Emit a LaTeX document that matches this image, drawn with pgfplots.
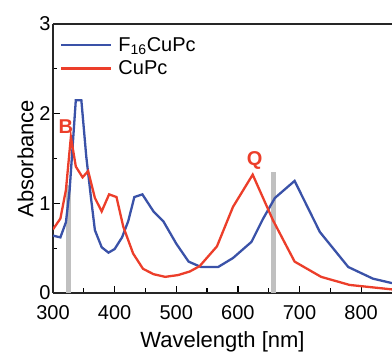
\documentclass[border=0pt]{standalone}
\usepackage{pgfplots}
\pgfplotsset{compat=1.18}
\usepackage{fontspec}
\setmainfont{Liberation Sans}
\definecolor{cblue}{RGB}{58,82,168}
\definecolor{cred}{RGB}{236,62,42}
\definecolor{cgray}{RGB}{192,192,192}
\begin{document}
\begin{tikzpicture}
\begin{axis}[
  name=a,
  scale only axis,
  width=339pt, height=269pt,
  xmin=300, xmax=850, ymin=0, ymax=3,
  axis x line=box, axis y line=left,
  axis line style={-, line width=1.4pt, black!85},
  every outer x axis line/.append style={-},
  every outer y axis line/.append style={-},
  every inner x axis line/.append style={-},
  xtick={300,400,...,800}, ytick={0,1,2,3},
  minor x tick num=1, minor y tick num=1,
  xtick pos=bottom,
  tick align=inside,
  major tick length=7pt, minor tick length=4.5pt,
  every tick/.style={black, line width=1.2pt},
  /pgf/number format/assume math mode=true,
  ticklabel style={font=\fontsize{20}{20}\selectfont},
  xticklabel style={yshift=-9pt},
  yticklabel style={xshift=1pt},
  xlabel={Wavelength [nm]}, ylabel={Absorbance},
  label style={font=\fontsize{22}{22}\selectfont},
  xlabel style={yshift=-5pt},
  ylabel style={yshift=-1pt},
  legend style={at={(axis description cs:0,1)}, anchor=north west, draw=none, fill=none,
    font=\fontsize{20}{20}\selectfont, xshift=4pt, yshift=-9pt,
    row sep=4pt},
  legend cell align=left,
  legend image code/.code={\draw[#1] (0pt,0pt) -- (50pt,0pt); \path (54pt,0pt);},
  clip=true,
]
\addplot[ycomb, line width=5pt, cgray, forget plot] coordinates {(325,1.2) (657,1.35)};
\addplot[cblue, line width=2.3pt] coordinates {
(300,0.64) (312,0.62) (321,0.79) (327,1.15) (337,2.15) (346,2.15) (354,1.52) (362,1.04)
(368,0.70) (379,0.51) (390,0.45) (400,0.49) (412,0.62) (422,0.80) (432,1.07) (445,1.10)
(463,0.91) (479,0.80) (500,0.55) (520,0.35) (540,0.29) (568,0.29) (592,0.39) (622,0.57)
(641,0.83) (660,1.06) (692,1.25) (733,0.68) (779,0.29) (819,0.16) (850,0.11)};
\addlegendentry{F\textsubscript{16}CuPc}
\addplot[cred, line width=2.3pt] coordinates {
(300,0.71) (312,0.83) (321,1.15) (329,1.74) (337,1.41) (348,1.29) (357,1.36) (368,1.06)
(379,0.91) (391,1.10) (403,1.07) (414,0.74) (430,0.44) (446,0.27) (463,0.21) (482,0.18)
(503,0.20) (522,0.24) (538,0.30) (566,0.52) (592,0.96) (624,1.32) (657,0.81) (692,0.35)
(735,0.18) (781,0.09) (850,0.04)};
\addlegendentry{CuPc}
\node[text=cred, font=\fontsize{20}{20}\selectfont\bfseries] at (axis cs:321,1.86) {B};
\node[text=cred, font=\fontsize{20}{20}\selectfont\bfseries] at (axis cs:627,1.48) {Q};
\end{axis}
\pgfresetboundingbox
\path ([shift={(-53pt,-59pt)}]a.south west) rectangle ([shift={(0pt,24pt)}]a.north east);
\end{tikzpicture}
\end{document}
